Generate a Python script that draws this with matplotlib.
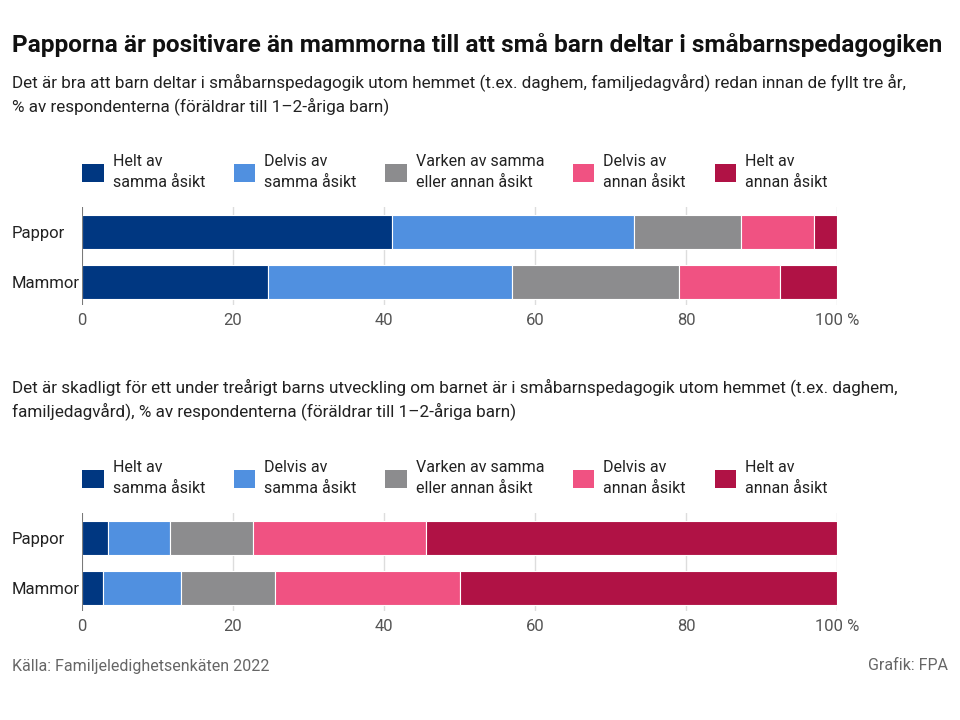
import matplotlib
matplotlib.use("Agg")
import matplotlib.pyplot as plt
from matplotlib.patches import Patch

plt.rcParams['font.family'] = ['Roboto', 'DejaVu Sans']

title = "Papporna är positivare än mammorna till att små barn deltar i småbarnspedagogiken"
subtitle1 = ("Det är bra att barn deltar i småbarnspedagogik utom hemmet (t.ex. daghem, familjedagvård) redan innan de fyllt tre år,\n"
             "% av respondenterna (föräldrar till 1–2-åriga barn)")
subtitle2 = ("Det är skadligt för ett under treårigt barns utveckling om barnet är i småbarnspedagogik utom hemmet (t.ex. daghem,\n"
             "familjedagvård), % av respondenterna (föräldrar till 1–2-åriga barn)")
source = "Källa: Familjeledighetsenkäten 2022"
credit = "Grafik: FPA"

groups = ["Pappor", "Mammor"]
series = ["Helt av\nsamma åsikt", "Delvis av\nsamma åsikt", "Varken av samma\neller annan åsikt",
          "Delvis av\nannan åsikt", "Helt av\nannan åsikt"]
colors = ["#003781", "#5090e0", "#8c8c8e", "#f05282", "#b01245"]

# rows = series, columns = groups (Pappor, Mammor)
values1 = [
    [41.1, 24.7],
    [32.0, 32.2],
    [14.2, 22.2],
    [9.7, 13.4],
    [3.0, 7.5],
]
values2 = [
    [3.5, 2.8],
    [8.2, 10.3],
    [10.9, 12.4],
    [22.9, 24.6],
    [54.5, 49.9],
]
xticks = [0, 20, 40, 60, 80, 100]
xticklabels = ["0", "20", "40", "60", "80", "100 %"]

W, H = 960, 720
fig = plt.figure(figsize=(9.6, 7.2), dpi=100)

def fx(px):
    return px / W

def fy(py):
    return 1 - py / H

fig.text(fx(12), fy(45), title, fontsize=17.55, fontweight='bold', color='#111111', va='center', ha='left')
fig.text(fx(12), fy(94), subtitle1, fontsize=12.3, color='#222222', va='center', ha='left', linespacing=1.4)
fig.text(fx(12), fy(399), subtitle2, fontsize=12.3, color='#222222', va='center', ha='left', linespacing=1.4)
fig.text(fx(12), fy(666), source, fontsize=11.5, color='#666666', va='center', ha='left')
fig.text(fx(948), fy(666), credit, fontsize=11.5, color='#666666', va='center', ha='right')


def draw(values, ax_top, legend_y):
    ax = fig.add_axes([fx(82), fy(ax_top + 98), fx(837) - fx(82), 98 / H])
    ypos = list(range(len(groups)))
    left = [0.0] * len(groups)
    for vals, col, lab in zip(values, colors, series):
        ax.barh(ypos, vals, left=left, height=0.68, color=col, edgecolor='white', linewidth=0.8,
                label=lab, zorder=3)
        left = [l + v for l, v in zip(left, vals)]
    ax.set_xlim(0, 100)
    ax.set_ylim(1.46, -0.5)
    ax.set_xticks(xticks)
    ax.set_xticklabels(xticklabels)
    ax.set_yticks(ypos)
    ax.set_yticklabels(groups)
    for lab in ax.get_yticklabels():
        lab.set_horizontalalignment('left')
    ax.tick_params(axis='y', length=0, pad=50.5, labelsize=12, labelcolor='#222222')
    ax.tick_params(axis='x', length=0, pad=6, labelsize=12, labelcolor='#555555')
    for s in ax.spines.values():
        s.set_visible(False)
    ax.grid(axis='x', color='#dddddd', linewidth=1, zorder=0)
    ax.axvline(0, color='#666666', linewidth=1.2, zorder=4)
    handles = [Patch(facecolor=c, edgecolor='none') for c in colors]
    leg = fig.legend(handles, series, loc='center left', bbox_to_anchor=(fx(76), fy(legend_y)),
                     ncol=5, frameon=False, fontsize=11.5, handlelength=1.35, handleheight=1.35,
                     handletextpad=0.55, columnspacing=1.8, labelspacing=0.2, borderaxespad=0,
                     labelcolor='#222222')
    for t in leg.get_texts():
        t.set_linespacing(1.45)
    return ax

draw(values1, 207, 172)
draw(values2, 513, 478)

fig.savefig("out.png", dpi=100)
